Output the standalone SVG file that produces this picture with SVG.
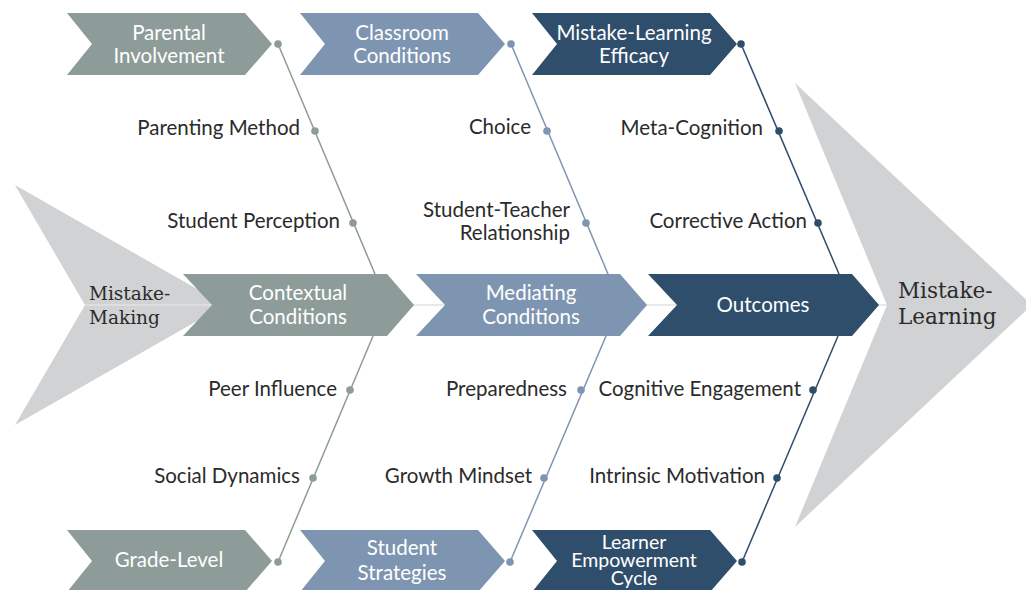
<svg xmlns="http://www.w3.org/2000/svg" width="1026" height="590" viewBox="0 0 1026 590">
  <style>
    .sage { fill: #8d9c98; }
    .blue { fill: #7e95b1; }
    .navy { fill: #2f4e6c; }
    .big { fill: #d1d2d4; }
    .ctext { font-family: Lato, "Liberation Sans", sans-serif; font-size: 20.5px; fill: #ffffff; text-anchor: middle; }
    .tight { font-size: 19.5px; }
    .label { font-family: Lato, "Liberation Sans", sans-serif; font-size: 20.5px; fill: #2b2b2b; text-anchor: end; }
    .end { font-family: "DejaVu Serif", "Liberation Serif", serif; fill: #2b2b2b; }
    .ln { fill: none; stroke-width: 1.5; }
  </style>
  <defs>
    <!-- chevron shapes of the three rows -->
    <path id="chev-row" d="M0,0 H178 L205,31 L178,62 H0 L25,31 Z"/>
    <path id="chev-mid" d="M0,0 H204 L231,31 L204,62 H0 L29,31 Z"/>
  </defs>

  <!-- large end arrows -->
  <g id="mistake-making">
    <polygon class="big" points="15,185 225,305 15,425 85,305"/>
    <text class="end" x="89" y="300" font-size="18.5">Mistake-</text>
    <text class="end" x="89" y="324" font-size="18.5">Making</text>
  </g>
  <g id="mistake-learning">
    <polygon class="big" points="795,83 1032,305 795,527 887,305"/>
    <text class="end" x="898" y="298" font-size="21.5">Mistake-</text>
    <text class="end" x="898" y="324" font-size="21.5">Learning</text>
  </g>

  <!-- connectors -->
  <g id="connectors">
    <line x1="85" y1="305" x2="887" y2="305" stroke="#e2e2e2" stroke-width="1.5"/>
    <polyline class="ln" stroke="#8d9c98" points="278,44 375,274"/>
    <polyline class="ln" stroke="#8d9c98" points="373,336 278,562"/>
    <polyline class="ln" stroke="#7e95b1" points="511,44 608,274"/>
    <polyline class="ln" stroke="#7e95b1" points="606,336 510,562"/>
    <polyline class="ln" stroke="#2f4e6c" points="741,44 839,274"/>
    <polyline class="ln" stroke="#2f4e6c" points="838,336 742,562"/>
    <g class="sage">
      <circle cx="278" cy="44" r="3.8"/><circle cx="315" cy="131" r="3.8"/><circle cx="353" cy="223" r="3.8"/>
      <circle cx="350" cy="390" r="3.8"/><circle cx="313" cy="478" r="3.8"/><circle cx="278" cy="562" r="3.8"/>
    </g>
    <g class="blue">
      <circle cx="511" cy="44" r="3.8"/><circle cx="547" cy="131" r="3.8"/><circle cx="586" cy="223" r="3.8"/>
      <circle cx="581" cy="390" r="3.8"/><circle cx="544" cy="478" r="3.8"/><circle cx="510" cy="562" r="3.8"/>
    </g>
    <g class="navy">
      <circle cx="741" cy="44" r="3.8"/><circle cx="779" cy="131" r="3.8"/><circle cx="818" cy="223" r="3.8"/>
      <circle cx="813" cy="390" r="3.8"/><circle cx="777" cy="478" r="3.8"/><circle cx="742" cy="562" r="3.8"/>
    </g>
  </g>

  <!-- top row -->
  <g id="parental-involvement">
    <use href="#chev-row" class="sage" x="67" y="13"/>
    <text class="ctext" x="169" y="40">Parental</text>
    <text class="ctext" x="169" y="63">Involvement</text>
  </g>
  <g id="classroom-conditions">
    <use href="#chev-row" class="blue" x="300" y="13"/>
    <text class="ctext" x="402" y="40">Classroom</text>
    <text class="ctext" x="402" y="63">Conditions</text>
  </g>
  <g id="mistake-learning-efficacy">
    <use href="#chev-row" class="navy" x="532" y="13"/>
    <text class="ctext" x="634" y="40">Mistake-Learning</text>
    <text class="ctext" x="634" y="63">Efficacy</text>
  </g>

  <!-- middle row -->
  <g id="contextual-conditions">
    <use href="#chev-mid" class="sage" x="183" y="274"/>
    <text class="ctext" x="298" y="300">Contextual</text>
    <text class="ctext" x="298" y="324">Conditions</text>
  </g>
  <g id="mediating-conditions">
    <use href="#chev-mid" class="blue" x="416" y="274"/>
    <text class="ctext" x="531" y="300">Mediating</text>
    <text class="ctext" x="531" y="324">Conditions</text>
  </g>
  <g id="outcomes">
    <use href="#chev-mid" class="navy" x="648" y="274"/>
    <text class="ctext" x="763" y="312">Outcomes</text>
  </g>

  <!-- bottom row -->
  <g id="grade-level">
    <use href="#chev-row" class="sage" x="67" y="530"/>
    <text class="ctext" x="169" y="567">Grade-Level</text>
  </g>
  <g id="student-strategies">
    <use href="#chev-row" class="blue" x="300" y="530"/>
    <text class="ctext" x="402" y="555">Student</text>
    <text class="ctext" x="402" y="580">Strategies</text>
  </g>
  <g id="learner-empowerment-cycle">
    <use href="#chev-row" class="navy" x="532" y="530"/>
    <text class="ctext tight" x="634" y="549">Learner</text>
    <text class="ctext tight" x="634" y="567">Empowerment</text>
    <text class="ctext tight" x="634" y="585">Cycle</text>
  </g>

  <!-- factor labels -->
  <g id="labels">
    <text class="label" x="300" y="135">Parenting Method</text>
    <text class="label" x="340" y="228">Student Perception</text>
    <text class="label" x="337" y="396">Peer Influence</text>
    <text class="label" x="300" y="483">Social Dynamics</text>
    <text class="label" x="531" y="134">Choice</text>
    <text class="label" x="570" y="217">Student-Teacher</text>
    <text class="label" x="570" y="240">Relationship</text>
    <text class="label" x="567" y="396">Preparedness</text>
    <text class="label" x="532" y="483">Growth Mindset</text>
    <text class="label" x="763" y="135">Meta-Cognition</text>
    <text class="label" x="807" y="228">Corrective Action</text>
    <text class="label" x="801" y="396">Cognitive Engagement</text>
    <text class="label" x="765" y="483">Intrinsic Motivation</text>
  </g>
</svg>
